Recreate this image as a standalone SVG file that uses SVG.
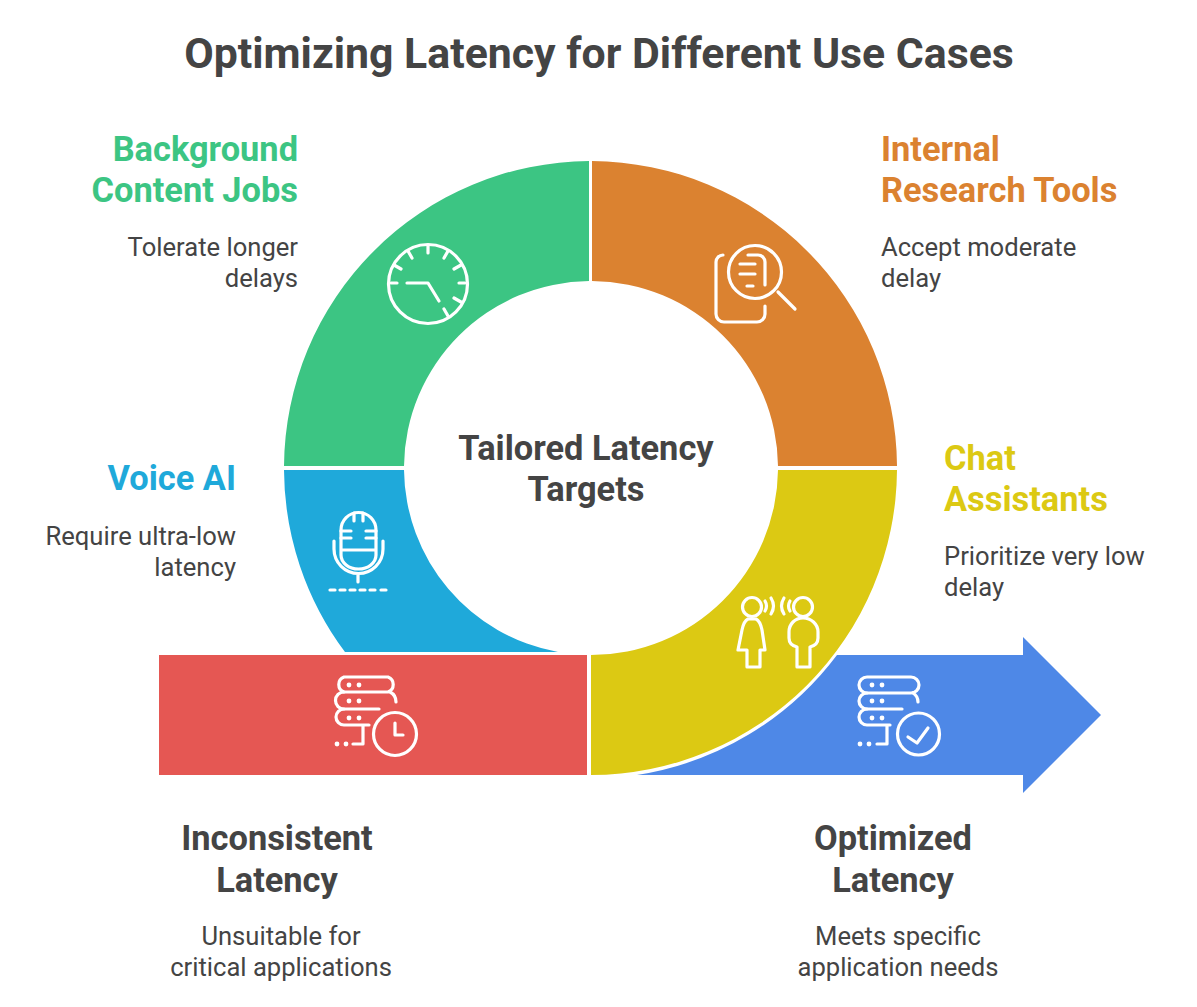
<svg xmlns="http://www.w3.org/2000/svg" width="1197" height="1007" viewBox="0 0 1197 1007">
<style>
text{font-family:Roboto,"Liberation Sans",sans-serif;fill:#444}
.t{font-size:42.800px;font-weight:700}
.h{font-size:34.400px;font-weight:700}
.b{font-size:25.600px;font-weight:400}
.m{text-anchor:middle}.e{text-anchor:end}
.i{fill:none;stroke:#fff;stroke-width:3.200;stroke-linecap:round;stroke-linejoin:round}
.d{fill:#fff}
.gv{fill:#1fa9da}.gg{fill:#3cc583}.go{fill:#db8230}.gy{fill:#dcc913}
</style>
<rect width="1197" height="1007" fill="#fff"/>
<text class="t m" x="599" y="68">Optimizing Latency for Different Use Cases</text>
<g id="connectors"></g>
<g id="optimized">
<path d="M637 775 A 309 309 0 0 0 837 655 H1023 V637 L1101 715 L1023 793 V775 Z" fill="#4e88e7"/>
<g class="i">
<path d="M867 677 H911 A8 8 0 0 1 911 693 H867 A8 8 0 0 1 867 677Z"/>
<path d="M867 693 A8 8 0 0 0 867 709 H902 M913 693 Q918 696 918 702"/>
<path d="M867 709 A8 8 0 0 0 867 725 H890 M887 725 V744 H877"/>
<circle cx="918.500" cy="734" r="21"/>
<path d="M908 737 L917 743 L928 728"/>
</g>
<g class="d"><circle cx="872" cy="685" r="2.400"/><circle cx="882" cy="685" r="2.400"/><circle cx="872" cy="701" r="2.400"/><circle cx="882" cy="701" r="2.400"/><circle cx="872" cy="718" r="2.400"/><circle cx="882" cy="718" r="2.400"/><circle cx="860" cy="744" r="2.400"/><circle cx="869" cy="744" r="2.400"/></g>
<text class="h m" x="893" y="850">Optimized</text><text class="h m" x="893" y="892">Latency</text>
<text class="b m" x="898" y="945">Meets specific</text><text class="b m" x="898" y="976">application needs</text>
</g>
<g id="voice-ai">
<path d="M284 470 H404 A187 187 0 0 0 558 652 H345 A307 307 0 0 1 284 470Z" fill="#1fa9da"/>
<g class="i">
<path d="M341 555 V530 A17.500 17.500 0 0 1 376 530 V555 M341 555 A17.500 14 0 0 0 376 555 M341 550 H376"/>
<path d="M334 541 V549 A24.500 24.500 0 0 0 383 549 V541 M358 574 V582"/>
<path d="M354 513 V521 M363 513 V521 M341 531 H351 M341 538 H351 M366 531 H376 M366 538 H376"/>
<path d="M330 590 H335 M340 590 H345 M350 590 H355 M360 590 H365 M370 590 H375 M381 590 H386"/>
</g>
<text class="h e gv" x="236" y="490">Voice AI</text>
<text class="b e" x="236" y="545">Require ultra-low</text><text class="b e" x="236" y="576">latency</text>
</g>
<g id="background-jobs">
<path d="M589 161 V281 A187 187 0 0 0 404 466 H284 A307 307 0 0 1 589 161Z" fill="#3cc583"/>
<g class="i">
<circle cx="428" cy="284" r="39.500"/>
<path d="M407 283 H428 L439 301"/>
<path d="M428 246 V253 M408 251 L412 258 M394 265 L401 269 M391 283 H397 M459 283 H465 M454 269 L461 265 M444 258 L448 251 M454 298 L461 302 M444 309 L448 316"/>
</g>
<text class="h e gg" x="298" y="161">Background</text><text class="h e gg" x="298" y="202">Content Jobs</text>
<text class="b e" x="298" y="256">Tolerate longer</text><text class="b e" x="298" y="287">delays</text>
</g>
<g id="research-tools">
<path d="M592 161 A307 307 0 0 1 897 466 H778 A187 187 0 0 0 592 281Z" fill="#db8230"/>
<g class="i">
<circle cx="755" cy="272" r="26.500"/>
<path d="M748 255 H758 A7 7 0 0 1 765 262 V285 M740 264 H755 M740 274 H755 M747 286 H753"/>
<path d="M778 292 L795 309"/>
<path d="M723 255 A7 7 0 0 0 716 262 V314 A8 8 0 0 0 724 322 H757 A8 8 0 0 0 765 314 V306"/>
</g>
<text class="h go" x="881" y="161">Internal</text><text class="h go" x="881" y="202">Research Tools</text>
<text class="b" x="881" y="256">Accept moderate</text><text class="b" x="881" y="287">delay</text>
</g>
<g id="chat-assistants">
<path d="M591 775 V655 A187 187 0 0 0 778 470 H897 A307 307 0 0 1 591 775Z" fill="#dcc913"/>
<g class="i">
<circle cx="752" cy="607" r="9.500"/><circle cx="803" cy="607" r="9.500"/>
<path d="M748 619 C744 621 743 625 742 630 L738 650 H747 V667 H760 V650 H765 L762 630 C761 625 760 621 756 619Z"/>
<path d="M803 618 C795 618 789 624 789 632 V638 Q789 645 797 647 V667 H810 V647 Q818 645 818 638 V632 C818 624 811 618 803 618Z"/>
<path d="M765 601 Q768 606 765 611 M771 598 Q776 606 771 614 M790 601 Q787 606 790 611 M784 598 Q779 606 784 614"/>
</g>
<text class="h gy" x="944" y="470">Chat</text><text class="h gy" x="944" y="511">Assistants</text>
<text class="b" x="944" y="565">Prioritize very low</text><text class="b" x="944" y="596">delay</text>
</g>
<g id="inconsistent">
<rect x="159" y="655" width="428" height="120" fill="#e55753"/>
<g class="i">
<path d="M344 677 H388 A8 8 0 0 1 388 692 H344 A8 8 0 0 1 344 677Z"/>
<path d="M344 692 A8 8 0 0 0 344 709 H379 M390 692 Q396 695 396 702"/>
<path d="M344 709 A8 8 0 0 0 344 725 H369 M363 725 V744 H353"/>
<circle cx="395" cy="734" r="21.500"/>
<path d="M395 723 V735 H403"/>
</g>
<g class="d"><circle cx="349" cy="685" r="2.400"/><circle cx="359" cy="685" r="2.400"/><circle cx="349" cy="701" r="2.400"/><circle cx="359" cy="701" r="2.400"/><circle cx="349" cy="718" r="2.400"/><circle cx="359" cy="718" r="2.400"/><circle cx="337" cy="744" r="2.400"/><circle cx="346" cy="744" r="2.400"/></g>
<text class="h m" x="277" y="850">Inconsistent</text><text class="h m" x="277" y="892">Latency</text>
<text class="b m" x="281" y="945">Unsuitable for</text><text class="b m" x="281" y="976">critical applications</text>
</g>
<g id="center"><text class="h m" x="586" y="460">Tailored Latency</text><text class="h m" x="586" y="501">Targets</text></g>
</svg>
